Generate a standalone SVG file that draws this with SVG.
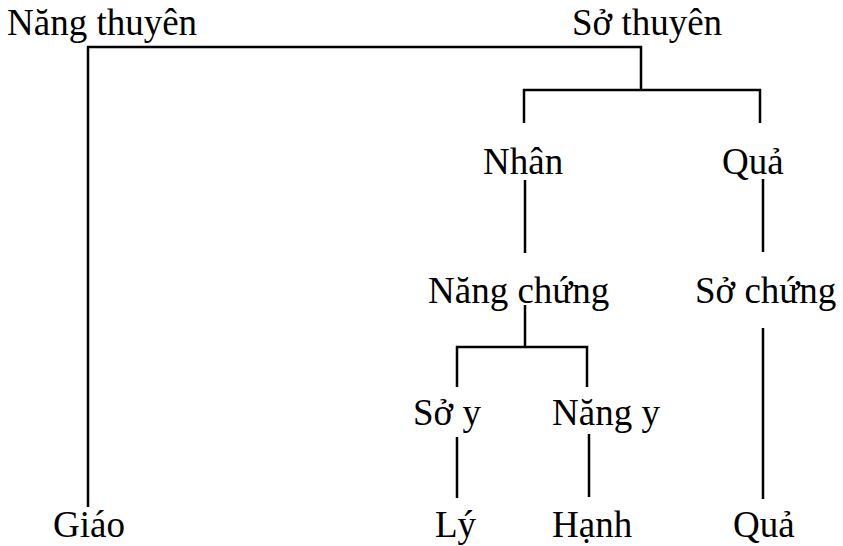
<svg xmlns="http://www.w3.org/2000/svg" width="843" height="546" viewBox="0 0 843 546">
<style>
text{font-family:"Liberation Serif","Times New Roman",serif;font-size:37px;fill:#000}
.c{fill:none;stroke:#000;stroke-width:2.5}
</style>
<rect width="843" height="546" fill="#fff"/>
<g id="connectors">
<polyline class="c" points="88,507 88,47 641,47 641,89"/>
<polyline class="c" points="524,123 524,90 760,90 760,123"/>
<line class="c" x1="525" y1="180" x2="525" y2="253"/>
<line class="c" x1="763" y1="179" x2="763" y2="252"/>
<line class="c" x1="525" y1="305" x2="525" y2="347"/>
<polyline class="c" points="457,387 457,347 587,347 587,387"/>
<line class="c" x1="457" y1="437" x2="457" y2="498"/>
<line class="c" x1="589" y1="434" x2="589" y2="497"/>
<line class="c" x1="763" y1="328" x2="763" y2="499"/>
</g>
<g id="nang-thuyen"><text x="7" y="35">Năng thuyên</text></g>
<g id="so-thuyen"><text x="572" y="35">Sở thuyên</text></g>
<g id="nhan"><text x="483" y="174">Nhân</text></g>
<g id="qua1"><text x="722" y="174">Quả</text></g>
<g id="nang-chung"><text x="428" y="303">Năng chứng</text></g>
<g id="so-chung"><text x="695" y="303">Sở chứng</text></g>
<g id="so-y"><text x="413" y="425">Sở y</text></g>
<g id="nang-y"><text x="552" y="425">Năng y</text></g>
<g id="giao"><text x="53" y="537">Giáo</text></g>
<g id="ly"><text x="435" y="537">Lý</text></g>
<g id="hanh"><text x="552" y="537">Hạnh</text></g>
<g id="qua2"><text x="733" y="537">Quả</text></g>
</svg>
